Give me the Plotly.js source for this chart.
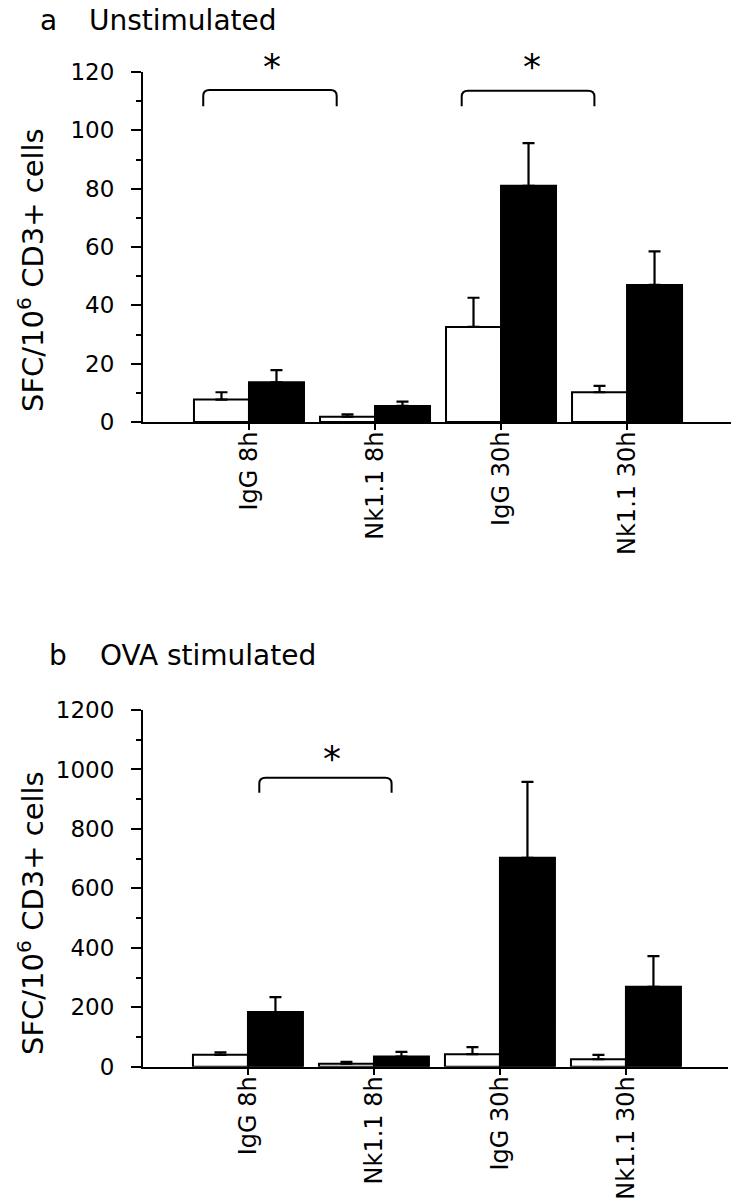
<!DOCTYPE html>
<html>
<head>
<meta charset="utf-8">
<script src="https://cdn.plot.ly/plotly-3.0.1.min.js"></script>
<style>html,body{margin:0;padding:0;background:#fff;}#chart{width:735px;height:1199px;}</style>
</head>
<body>
<div id="chart"></div>
<script>
// ---- data ----
const categories = ["IgG 8h", "Nk1.1 8h", "IgG 30h", "Nk1.1 30h"];

// panel a: Unstimulated
const unstimOpen = [7.7, 1.8, 32.6, 10.2];
const unstimOpenErr = [2.5, 0.8, 10, 2.2];
const unstimFilled = [13.6, 5.5, 81, 47];
const unstimFilledErr = [4.2, 1.5, 14.6, 11.5];

// panel b: OVA stimulated
const ovaOpen = [40, 10, 42, 25];
const ovaOpenErr = [8, 6, 24, 15];
const ovaFilled = [184, 34, 703, 269];
const ovaFilledErr = [50, 16, 255, 103];

const noMinus = [0, 0, 0, 0];

const panelTitles = ["Unstimulated", "OVA stimulated"];
const panelLetters = ["a", "b"];
const yTitle = "SFC/10<sup>6</sup> CD3+ cells";
// ---------------

const FONT = "DejaVu Sans";
function errBar(arr) {
  return {type: "data", symmetric: false, array: arr, arrayminus: noMinus,
          color: "black", thickness: 2.2, width: 6};
}
function barTrace(y, err, fill, xa, ya) {
  return {
    type: "bar", x: categories, y: y, xaxis: xa, yaxis: ya,
    marker: {color: fill, line: {color: "black", width: 2}},
    error_y: errBar(err), showlegend: false, hoverinfo: "skip"
  };
}

const traces = [
  barTrace(unstimOpen, unstimOpenErr, "white", "x", "y"),
  barTrace(unstimFilled, unstimFilledErr, "black", "x", "y"),
  barTrace(ovaOpen, ovaOpenErr, "white", "x2", "y2"),
  barTrace(ovaFilled, ovaFilledErr, "black", "x2", "y2")
];

function xAxis(domain, range, anchor) {
  return {
    domain: domain, range: range, anchor: anchor, type: "category",
    showline: true, linecolor: "black", linewidth: 2,
    ticks: "outside", ticklen: 6, tickwidth: 2, tickcolor: "black",
    tickangle: -90, ticklabelstandoff: -8,
    tickfont: {family: FONT, size: 24, color: "black"},
    showgrid: false, zeroline: false, fixedrange: true
  };
}
function yAxis(domain, range, dtick, anchor) {
  return {
    domain: domain, range: range, anchor: anchor,
    showline: true, linecolor: "black", linewidth: 2,
    ticks: "outside", ticklen: 10, tickwidth: 2, tickcolor: "black",
    dtick: dtick, tick0: 0, ticklabelstandoff: 12,
    minor: {dtick: dtick / 2, ticks: "outside", ticklen: 5, tickwidth: 2, tickcolor: "black"},
    tickfont: {family: FONT, size: 23, color: "black"},
    showgrid: false, zeroline: false, fixedrange: true
  };
}

function bracket(x0, x1, yTop, yEnd, rx, ry, xr, yr) {
  const p = "M " + x0 + "," + yEnd + " L " + x0 + "," + (yTop - ry) +
            " Q " + x0 + "," + yTop + " " + (x0 + rx) + "," + yTop +
            " L " + (x1 - rx) + "," + yTop +
            " Q " + x1 + "," + yTop + " " + x1 + "," + (yTop - ry) +
            " L " + x1 + "," + yEnd;
  return {type: "path", path: p, xref: xr, yref: yr,
          line: {color: "black", width: 2}};
}
const H = 1199, W = 735;
function star(px, py) {
  return {text: "*", x: px / W, y: 1 - py / H, xref: "paper", yref: "paper", showarrow: false,
          font: {family: FONT, size: 36, color: "black"}, xanchor: "center", yanchor: "middle"};
}
function txt(t, x, y, size, angle, xanchor) {
  return {text: t, x: x, y: y, xref: "paper", yref: "paper", showarrow: false,
          textangle: angle || 0, xanchor: xanchor || "left", yanchor: "middle",
          font: {family: FONT, size: size, color: "black"}};
}

const layout = {
  width: W, height: H,
  margin: {l: 0, r: 0, t: 0, b: 0, pad: 0},
  paper_bgcolor: "white", plot_bgcolor: "white",
  barmode: "group", bargap: 0.127, bargroupgap: 0,
  xaxis: xAxis([143 / W, 731 / W], [-0.841, 3.825], "y"),
  yaxis: yAxis([(H - 422) / H, (H - 72) / H], [0, 120], 20, "x"),
  xaxis2: xAxis([143 / W, 728 / W], [-0.833, 3.81], "y2"),
  yaxis2: yAxis([(H - 1066.7) / H, (H - 710) / H], [0, 1200], 200, "x2"),
  shapes: [
    bracket(-0.363, 0.696, 113.8, 108.3, 0.05, 2.0, "x", "y"),
    bracket(1.688, 2.741, 113.6, 108.3, 0.05, 2.0, "x", "y"),
    bracket(0.09, 1.14, 972, 922, 0.05, 20, "x2", "y2")
  ],
  annotations: [
    star(271.7, 67),
    star(531.7, 67),
    star(331.7, 758),
    txt(panelLetters[0], 38 / W, 1 - 20 / H, 28),
    txt(panelTitles[0], 87 / W, 1 - 20 / H, 28),
    txt(panelLetters[1], 47 / W, 1 - 655 / H, 28),
    txt(panelTitles[1], 98 / W, 1 - 655 / H, 28),
    txt(yTitle, 31 / W, 1 - 270 / H, 29, -90, "center"),
    txt(yTitle, 31 / W, 1 - 913 / H, 29, -90, "center")
  ]
};

Plotly.newPlot("chart", traces, layout, {staticPlot: true, displayModeBar: false});
</script>
</body>
</html>
